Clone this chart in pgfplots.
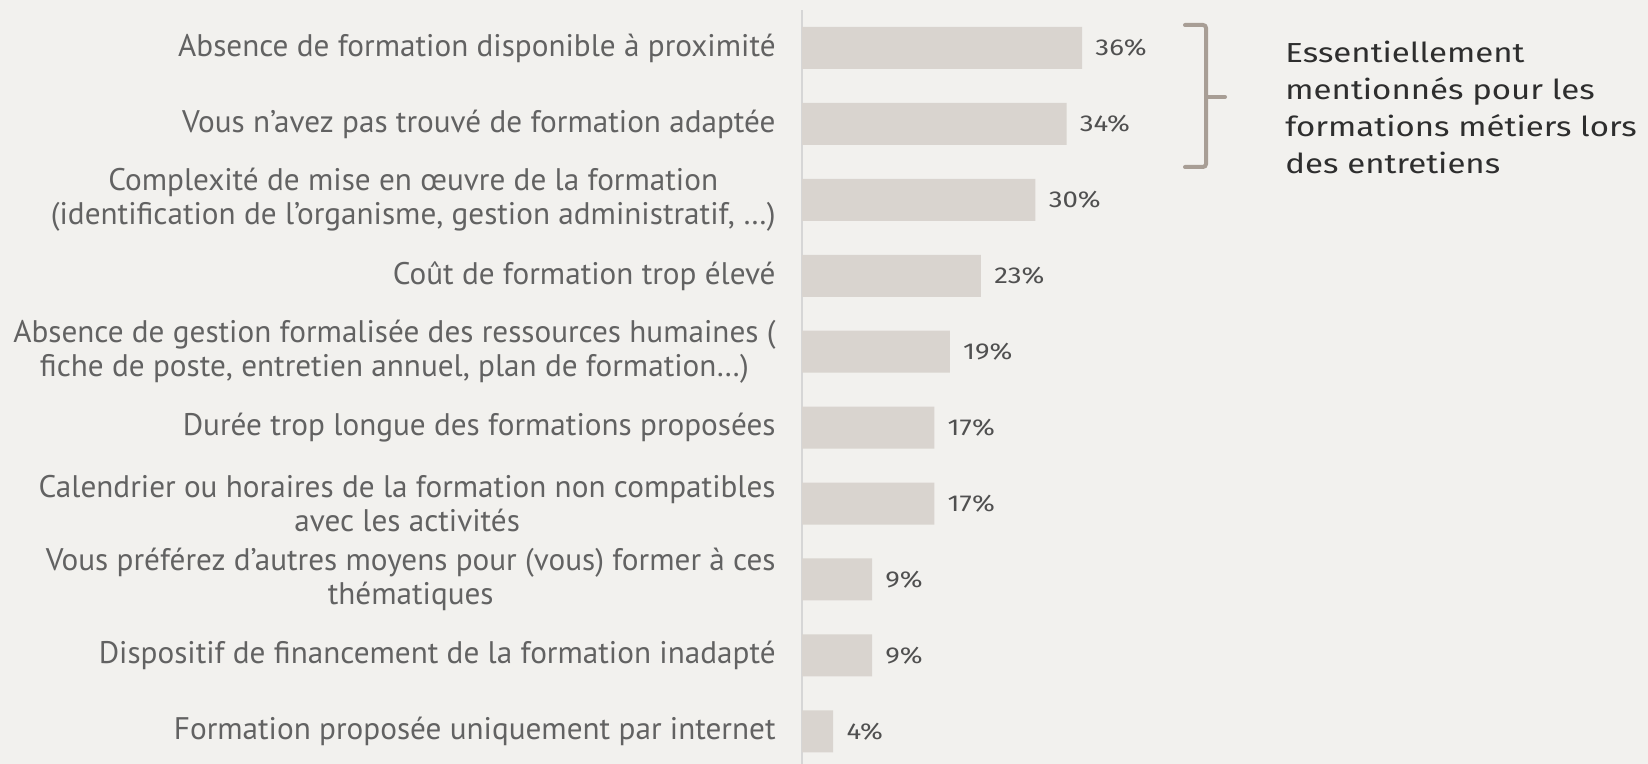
\documentclass[border=0pt]{standalone}
\usepackage{pgfplots}
\pgfplotsset{compat=1.18}
\usepackage{fontspec}
\setmainfont{PT Sans}
\newfontfamily\annfont[FakeStretch=1.2]{Fira Sans}
\definecolor{bg}{HTML}{F2F1EE}
\definecolor{barcol}{HTML}{D9D4CF}
\definecolor{labcol}{HTML}{626262}
\definecolor{valcol}{HTML}{505050}
\definecolor{brcol}{HTML}{A89E95}
\definecolor{axcol}{HTML}{D6D6D6}
\begin{document}
\begin{tikzpicture}
\path[use as bounding box, fill=bg] (0pt,0pt) rectangle (824pt,382pt);
\begin{axis}[
  at={(401pt,0pt)}, anchor=south west,
  scale only axis,
  width=389pt, height=377pt,
  xbar, bar width=0.553,
  xmin=0, xmax=100,
  ymin=-0.5, ymax=9.43,
  y dir=reverse,
  axis x line=none,
  axis y line*=left,
  y axis line style={draw=axcol, line width=1pt, -},
  ytick={0,...,9},
  major tick length=0pt,
  /pgf/number format/assume math mode=true,
  yticklabels={
    {Absence de formation disponible à proximité},
    {Vous n’avez pas trouvé de formation adaptée},
    {Complexité de mise en œuvre de la formation\\(identification de l’organisme, gestion administratif, …)},
    {Coût de formation trop élevé},
    {Absence de gestion formalisée des ressources humaines (\\fiche de poste, entretien annuel, plan de formation…)},
    {Durée trop longue des formations proposées},
    {Calendrier ou horaires de la formation non compatibles\\avec les activités},
    {Vous préférez d’autres moyens pour (vous) former à ces\\thématiques},
    {Dispositif de financement de la formation inadapté},
    {Formation proposée uniquement par internet}
  },
  yticklabel style={align=center, inner sep=0pt, xshift=-13pt, text=labcol,
    font=\fontsize{15.6pt}{16.8pt}\selectfont},
  nodes near coords={\pgfmathprintnumber{\pgfplotspointmeta}\%},
  point meta=x,
  every node near coord/.append style={anchor=west, inner sep=0pt, xshift=6.5pt,
    text=valcol, font=\annfont\fontsize{11.5pt}{14pt}\selectfont},
  clip=false,
]
\addplot[fill=barcol, draw=none] coordinates {
  (36,0) (34,1) (30,2) (23,3) (19,4) (17,5) (17,6) (9,7) (9,8) (4,9)
};
\end{axis}
\draw[brcol, line width=2pt, line cap=round, rounded corners=1.5pt]
  (592.5pt,369.5pt) -- (603pt,369.5pt) -- (603pt,298.5pt) -- (592.5pt,298.5pt);
\draw[brcol, line width=2pt, line cap=round] (603pt,333.5pt) -- (612.5pt,333.5pt);
\node[anchor=north west, inner sep=0pt, align=left, text=black!82,
  font=\annfont\fontsize{13.75pt}{18.5pt}\selectfont]
  at (642.5pt,361.5pt) {Essentiellement\\mentionnés pour les\\formations métiers lors\\des entretiens};
\end{tikzpicture}
\end{document}
